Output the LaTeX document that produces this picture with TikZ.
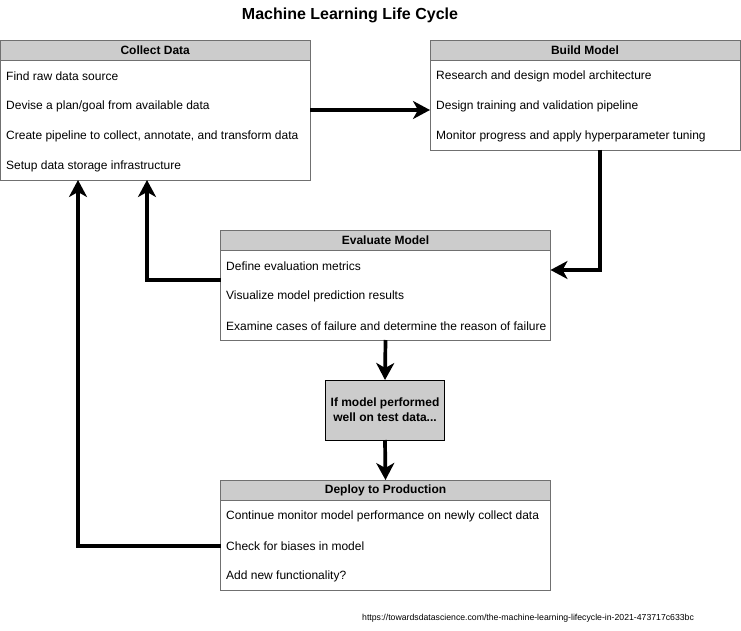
\documentclass[tikz,border=0pt]{standalone}
\usepackage{fontspec}
\setmainfont{Liberation Sans}
\usetikzlibrary{arrows.meta,calc}
\definecolor{hdrfill}{HTML}{CCCCCC}
\definecolor{boxline}{HTML}{707070}
\tikzset{
  boxbody/.style={draw=boxline, line width=0.8pt, fill=white, rectangle, inner sep=0pt, outer sep=0pt, anchor=north west},
  boxhead/.style={draw=boxline, line width=0.8pt, fill=hdrfill, rectangle, inner sep=0pt, outer sep=0pt, anchor=north west, font=\bfseries\fontsize{12}{14}\selectfont},
  rowtext/.style={anchor=west, inner sep=0pt, font=\fontsize{12}{14}\selectfont},
  flow/.style={line width=3.7pt, line join=miter, -{Stealth[length=17pt, width=18pt, inset=5pt]}},
}
\begin{document}
\begin{tikzpicture}[x=1pt,y=-1pt]
\useasboundingbox (0,0) rectangle (741,631);
\fill[white] (0,0) rectangle (741,631);

\node[font=\bfseries\fontsize{16}{19}\selectfont, inner sep=0pt] (title) at (350,15) {Machine Learning Life Cycle};

% Collect Data
\node[boxbody, minimum width=309.5pt, minimum height=140pt] (cd) at (0.5,40) {};
\node[boxhead, minimum width=309.5pt, minimum height=20pt] (cdh) at (0.5,40) {Collect Data};
\node[rowtext] (cd1) at (6,76) {Find raw data source};
\node[rowtext] (cd2) at (6,106) {Devise a plan/goal from available data};
\node[rowtext] (cd3) at (6,136) {Create pipeline to collect, annotate, and transform data};
\node[rowtext] (cd4) at (6,166) {Setup data storage infrastructure};

% Build Model
\node[boxbody, minimum width=310pt, minimum height=110pt] (bm) at (430,40) {};
\node[boxhead, minimum width=310pt, minimum height=20pt] (bmh) at (430,40) {Build Model};
\node[rowtext] (bm1) at (436,76) {Research and design model architecture};
\node[rowtext] (bm2) at (436,106) {Design training and validation pipeline};
\node[rowtext] (bm3) at (436,136) {Monitor progress and apply hyperparameter tuning};

% Evaluate Model
\node[boxbody, minimum width=330pt, minimum height=110pt] (ev) at (220.5,230) {};
\node[boxhead, minimum width=330pt, minimum height=20pt] (evh) at (220.5,230) {Evaluate Model};
\node[rowtext] (ev1) at (226,266) {Define evaluation metrics};
\node[rowtext] (ev2) at (226,296) {Visualize model prediction results};
\node[rowtext] (ev3) at (226,326) {Examine cases of failure and determine the reason of failure};

% Decision
\node[draw=black, line width=0.8pt, fill=hdrfill, rectangle, inner sep=0pt, outer sep=0pt, anchor=north west, minimum width=119pt, minimum height=60pt, align=center, font=\bfseries\fontsize{12}{15}\selectfont] (ifb) at (325.5,380) {If model performed\\well on test data...};

% Deploy
\node[boxbody, minimum width=330pt, minimum height=110pt] (dp) at (220.5,480) {};
\node[boxhead, minimum width=330pt, minimum height=20pt] (dph) at (220.5,480) {Deploy to Production};
\node[rowtext] (dp1) at (226,516) {Continue monitor model performance on newly collect data};
\node[rowtext] (dp2) at (226,546) {Check for biases in model};
\node[rowtext] (dp3) at (226,576) {Add new functionality?};

% URL
\node[anchor=west, inner sep=0pt, font=\fontsize{8.7}{10}\selectfont] (url) at (362,618) {https://towardsdatascience.com/the-machine-learning-lifecycle-in-2021-473717c633bc};

% connectors
\coordinate (b1) at (600,270);
\coordinate (c1) at (147,280);
\coordinate (c2) at (78,546);
\draw[flow] (cd.east) -- (cd.east -| bm.west);
\draw[flow] (b1 |- bm.south) -- (b1) -- (b1 -| ev.east);
\draw[flow] (c1 -| ev.west) -- (c1) -- (c1 |- cd.south);
\draw[flow] (ev.south) -- (ifb.north);
\draw[flow] (ifb.south) -- (dp.north);
\draw[flow] (c2 -| dp.west) -- (c2) -- (c2 |- cd.south);
\end{tikzpicture}
\end{document}
